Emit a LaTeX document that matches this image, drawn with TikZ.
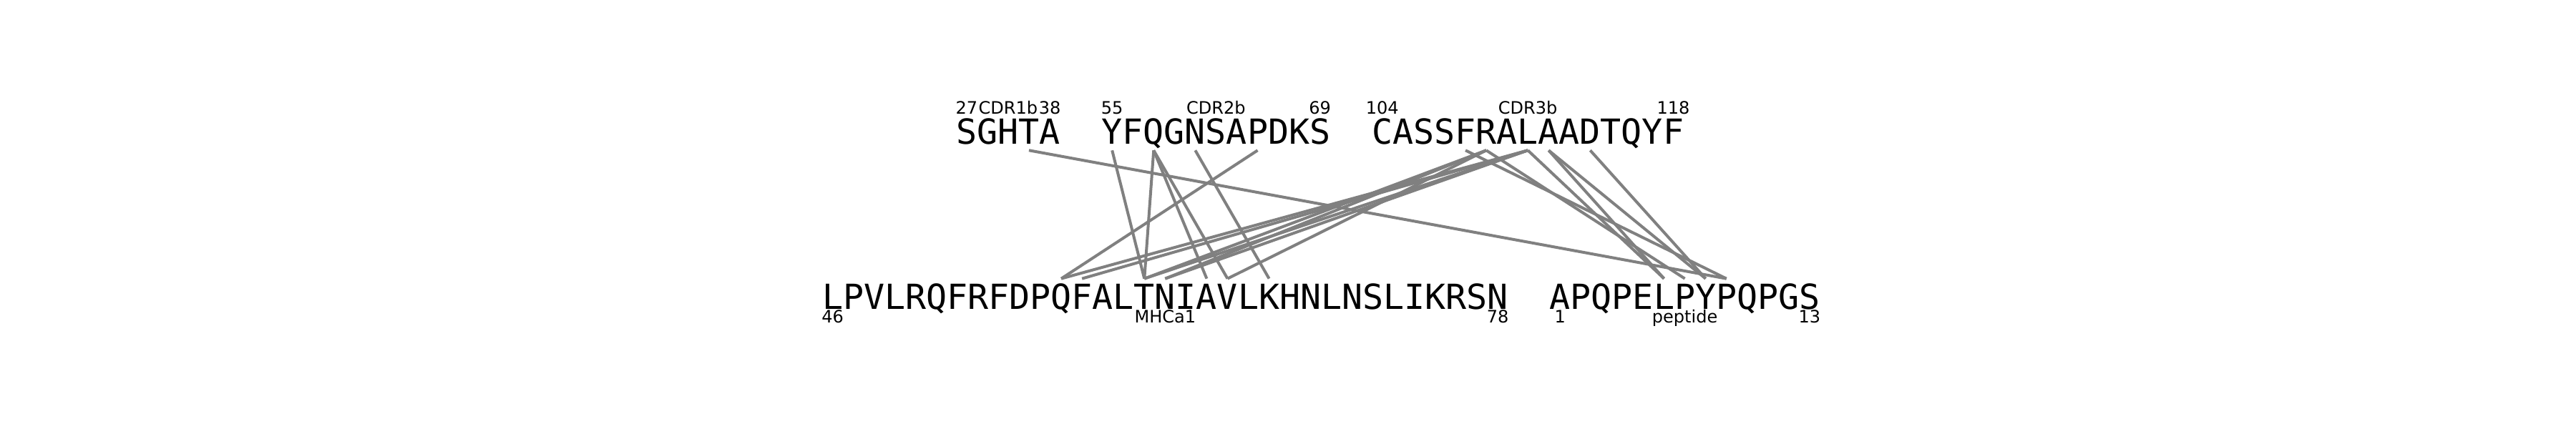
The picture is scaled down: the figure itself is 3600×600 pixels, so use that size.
\documentclass[tikz,border=0pt]{standalone}
\usepackage{fontspec}
\setmainfont{DejaVu Sans}
\newfontfamily\seqfont{DejaVu Sans Mono}
\begin{document}
\begin{tikzpicture}[x=0.01in,y=-0.01in,
  seqtop/.style={font=\seqfont\fontsize{34.87pt}{40pt}\selectfont, inner sep=0pt, anchor=base, text depth=5.78pt},
  seqbot/.style={font=\seqfont\fontsize{34.87pt}{40pt}\selectfont, inner sep=0pt, anchor=base, text height=31.08pt, text depth=0pt},
  lab/.style={font=\fontsize{17.35pt}{20pt}\selectfont, inner sep=0pt, anchor=base},
  link/.style={draw={rgb,255:red,128;green,128;blue,128}, line width=2.89pt}]
\useasboundingbox (0,0) rectangle (3600,600);
\def\xt{1336.3}
\def\xb{1149.0}
\def\cw{29.05}
% top sequences
\foreach \c [count=\i from 0] in {S,G,H,T,A}
  \node[seqtop] (T\i) at ({\xt+(\i+0.5)*\cw},202) {\c};
\foreach \c [count=\i from 7] in {Y,F,Q,G,N,S,A,P,D,K,S}
  \node[seqtop] (T\i) at ({\xt+(\i+0.5)*\cw},202) {\c};
\foreach \c [count=\i from 20] in {C,A,S,S,F,R,A,L,A,A,D,T,Q,Y,F}
  \node[seqtop] (T\i) at ({\xt+(\i+0.5)*\cw},202) {\c};
% bottom sequences
\foreach \c [count=\i from 0] in {L,P,V,L,R,Q,F,R,F,D,P,Q,F,A,L,T,N,I,A,V,L,K,H,N,L,N,S,L,I,K,R,S,N}
  \node[seqbot] (B\i) at ({\xb+(\i+0.5)*\cw},433) {\c};
\foreach \c [count=\i from 35] in {A,P,Q,P,E,L,P,Y,P,Q,P,G,S}
  \node[seqbot] (B\i) at ({\xb+(\i+0.5)*\cw},433) {\c};
% top labels
\node[lab] (l27) at ({\xt+0.5*\cw},160) {27};
\node[lab] (lcdr1) at ({\xt+2.5*\cw},160) {CDR1b};
\node[lab] (l38) at ({\xt+4.5*\cw},160) {38};
\node[lab] (l55) at ({\xt+7.5*\cw},160) {55};
\node[lab] (lcdr2) at ({\xt+12.5*\cw},160) {CDR2b};
\node[lab] (l69) at ({\xt+17.5*\cw},160) {69};
\node[lab] (l104) at ({\xt+20.5*\cw},160) {104};
\node[lab] (lcdr3) at ({\xt+27.5*\cw},160) {CDR3b};
\node[lab] (l118) at ({\xt+34.5*\cw},160) {118};
% bottom labels
\node[lab] (l46) at ({\xb+0.5*\cw},452) {46};
\node[lab] (lmhc) at ({\xb+16.5*\cw},452) {MHCa1};
\node[lab] (l78) at ({\xb+32.5*\cw},452) {78};
\node[lab] (l1) at ({\xb+35.5*\cw},452) {1};
\node[lab] (lpep) at ({\xb+41.5*\cw},452) {peptide};
\node[lab] (l13) at ({\xb+47.5*\cw},452) {13};
% contacts
\draw[link] (T3.south) -- (B43.north);
\draw[link] (T7.south) -- (B15.north);
\draw[link] (T9.south) -- (B15.north);
\draw[link] (T9.south) -- (B18.north);
\draw[link] (T9.south) -- (B19.north);
\draw[link] (T11.south) -- (B21.north);
\draw[link] (T14.south) -- (B11.north);
\draw[link] (T24.south) -- (B43.north);
\draw[link] (T25.south) -- (B41.north);
\draw[link] (T25.south) -- (B15.north);
\draw[link] (T25.south) -- (B16.north);
\draw[link] (T25.south) -- (B19.north);
\draw[link] (T27.south) -- (B40.north);
\draw[link] (T27.south) -- (B11.north);
\draw[link] (T27.south) -- (B12.north);
\draw[link] (T27.south) -- (B15.north);
\draw[link] (T27.south) -- (B16.north);
\draw[link] (T28.south) -- (B40.north);
\draw[link] (T28.south) -- (B42.north);
\draw[link] (T30.south) -- (B42.north);
\end{tikzpicture}
\end{document}
